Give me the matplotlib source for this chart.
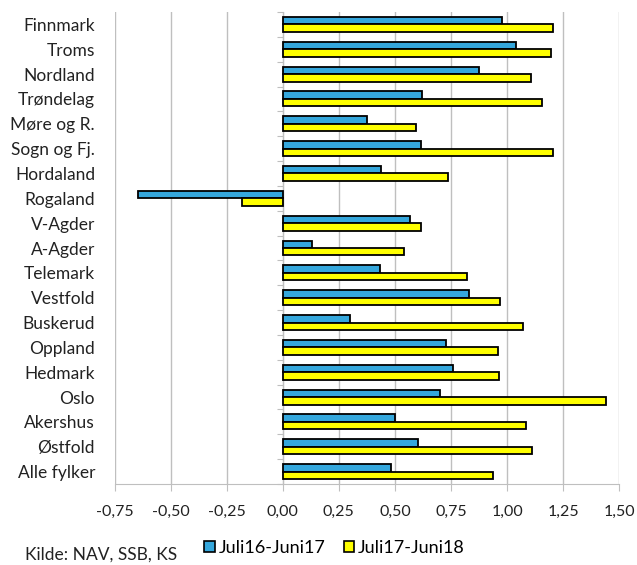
import numpy as np
import matplotlib
matplotlib.use('Agg')
import matplotlib.pyplot as plt
from matplotlib.patches import Patch

fylker = ['Finnmark', 'Troms', 'Nordland', 'Trøndelag', 'Møre og R.', 'Sogn og Fj.',
          'Hordaland', 'Rogaland', 'V-Agder', 'A-Agder', 'Telemark', 'Vestfold',
          'Buskerud', 'Oppland', 'Hedmark', 'Oslo', 'Akershus', 'Østfold', 'Alle fylker']
juli16_juni17 = [0.977, 1.04, 0.873, 0.622, 0.377, 0.615, 0.44, -0.645, 0.565, 0.13,
                 0.432, 0.829, 0.298, 0.728, 0.76, 0.70, 0.499, 0.603, 0.481]
juli17_juni18 = [1.205, 1.197, 1.105, 1.156, 0.594, 1.205, 0.737, -0.183, 0.615, 0.54,
                 0.82, 0.97, 1.069, 0.96, 0.964, 1.44, 1.083, 1.112, 0.935]
serier = ['Juli16-Juni17', 'Juli17-Juni18']
x_ticks = [-0.75, -0.5, -0.25, 0.0, 0.25, 0.5, 0.75, 1.0, 1.25, 1.5]

BLUE = '#35A7DC'
YELLOW = '#FFFF00'
GRID = '#BFBFBF'
TXT = '#222222'

plt.rcParams['font.family'] = ['Lato', 'DejaVu Sans']

fig = plt.figure(figsize=(6.37, 5.65), dpi=100)
ax = fig.add_axes([114.5 / 637, 1 - 484 / 565, (619.3 - 114.5) / 637, (484 - 12) / 565])

y = np.arange(len(fylker))
h = 0.3
ax.barh(y - h / 2, juli16_juni17, height=h, color=BLUE, edgecolor='black', linewidth=1.3, zorder=3)
ax.barh(y + h / 2, juli17_juni18, height=h, color=YELLOW, edgecolor='black', linewidth=1.3, zorder=3)

ax.set_xlim(-0.75, 1.5)
ax.set_ylim(len(fylker) - 0.5, -0.5)
ax.set_xticks(x_ticks)
ax.set_xticklabels([f'{v:.2f}'.replace('.', ',') for v in x_ticks], fontsize=11.5, color=TXT)
ax.set_yticks(y)
ax.set_yticklabels(fylker, fontsize=12.5, color=TXT)
ax.tick_params(axis='y', length=0, pad=14)
ax.tick_params(axis='x', length=5, color=GRID, pad=10)

ax.grid(axis='x', color=GRID, linewidth=1, zorder=0)
for s in ['top', 'right', 'left']:
    ax.spines[s].set_visible(False)
ax.spines['bottom'].set_color(GRID)

# nulllinje med streker mellom kategoriene
sec = ax.secondary_yaxis(1 / 3)
sec.set_yticks(np.arange(len(fylker) + 1) - 0.5)
sec.set_yticklabels([])
sec.tick_params(length=4, color=GRID)
sec.spines['left'].set_color(GRID)

handles = [Patch(facecolor=BLUE, edgecolor='black', linewidth=1.2),
           Patch(facecolor=YELLOW, edgecolor='black', linewidth=1.2)]
fig.legend(handles, serier, loc='center', bbox_to_anchor=(0.525, 1 - 548 / 565), ncol=2,
           frameon=False, fontsize=13, handlelength=0.6, handleheight=0.6,
           handletextpad=0.2, columnspacing=1.0)

fig.text(25 / 637, 1 - 547 / 565, 'Kilde: NAV, SSB, KS', fontsize=12.5, va='top', ha='left',
         color=TXT)

fig.savefig('out.png', dpi=100)
